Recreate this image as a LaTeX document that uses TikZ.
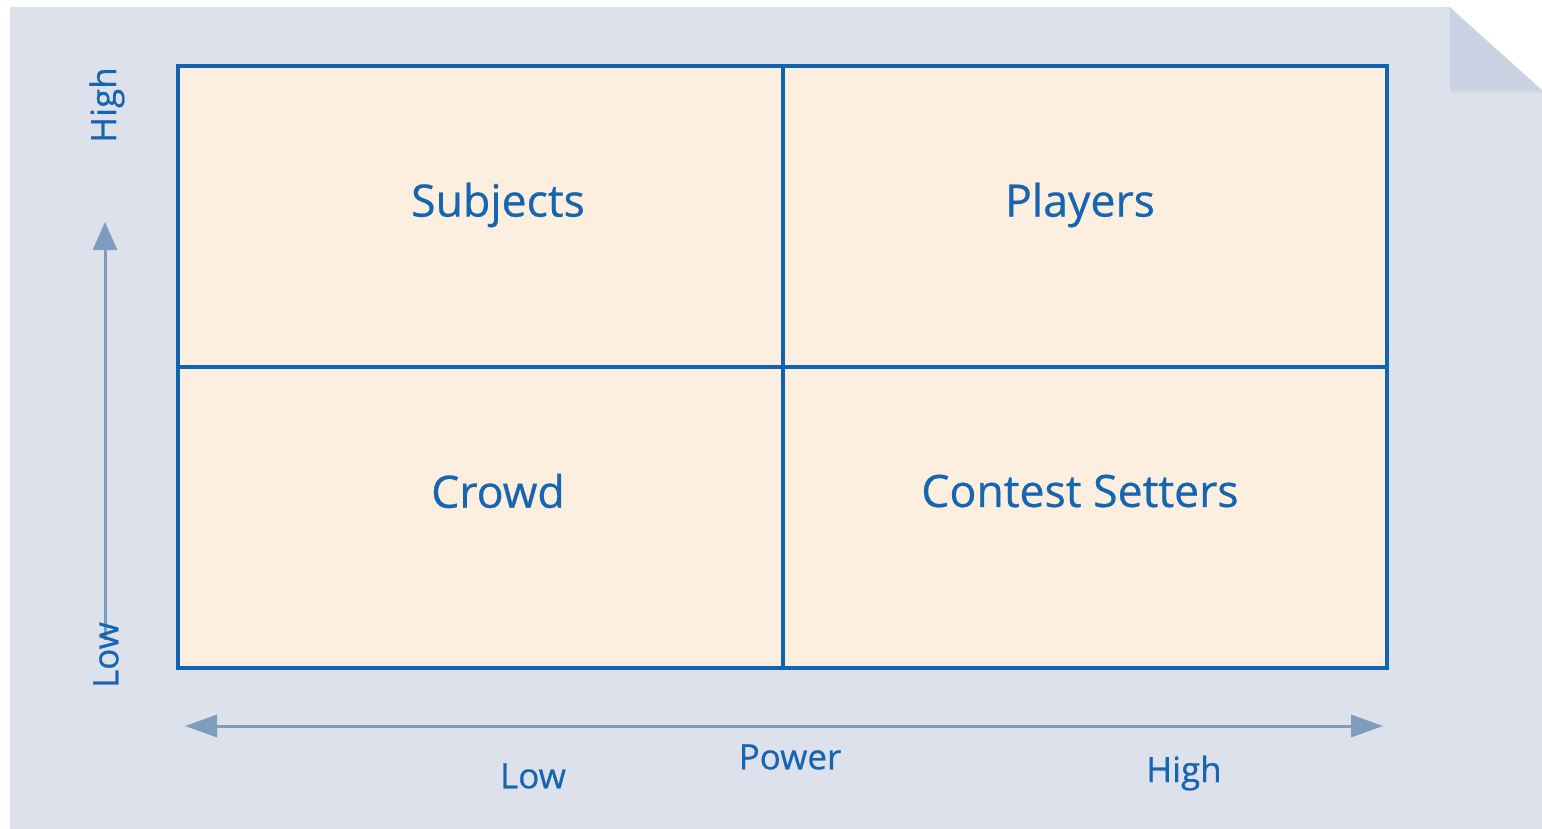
\documentclass[tikz,border=0pt]{standalone}
\usepackage{fontspec}
\setmainfont{Open Sans}
\newfontface\medfont{Open Sans}[FakeBold=0.6]
\usetikzlibrary{arrows.meta}
\definecolor{pagebg}{HTML}{DCE1EC}
\definecolor{foldc}{HTML}{C8D2E2}
\definecolor{cellfill}{HTML}{FDEFE0}
\definecolor{gridblue}{HTML}{0F63B0}
\definecolor{txtblue}{HTML}{1565B0}
\definecolor{axisc}{HTML}{7F9CBF}
\tikzset{
  celltxt/.style={text=txtblue, font=\medfont\fontsize{22.3}{26}\selectfont, inner sep=0pt},
  axistxt/.style={text=txtblue, font=\medfont\fontsize{17.5}{21}\selectfont, inner sep=0pt},
  axisline/.style={draw=axisc, line width=1.5pt},
  gridline/.style={draw=gridblue, line width=2.2pt}
}
\begin{document}
\begin{tikzpicture}[x=0.5pt,y=-0.5pt]
\useasboundingbox (0,0) rectangle (1542,829);
\fill[white] (0,0) rectangle (1542,829);
% page with folded corner
\fill[pagebg] (10,7) -- (1450,7) -- (1542,90) -- (1542,829) -- (10,829) -- cycle;
\fill[black!20, opacity=0.5] (1452,10) -- (1452,93) -- (1542,93) -- (1542,90) -- cycle;
\fill[foldc] (1450,8) -- (1450,90) -- (1540,90) -- cycle;
% grid
\fill[cellfill] (178,66) rectangle (1387,668);
\draw[gridline] (178,66) rectangle (1387,668);
\draw[gridline] (783,66) -- (783,668);
\draw[gridline] (178,367) -- (1387,367);
% cell labels
\node[celltxt] (subj) at (498,205) {Subjects};
\node[celltxt] (play) at (1080,205) {Players};
\node[celltxt] (crowd) at (498,491) {Crowd};
\node[celltxt] (cont) at (1080,491) {Contest Setters};
% vertical axis
\coordinate (vbot) at (105,640);
\coordinate (vtop) at (105,222);
\draw[axisline, -{Triangle[length=14pt,width=12pt]}] (vbot) -- (vtop);
\node[axistxt, rotate=90] (vhigh) at (107,105) {High};
\node[axistxt, rotate=90] (vlow) at (106,655) {Low};
% horizontal axis
\coordinate (hleft) at (185,726);
\coordinate (hright) at (1383,726);
\draw[axisline, {Triangle[length=16pt,width=11pt]}-{Triangle[length=16pt,width=11pt]}] (hleft) -- (hright);
\node[axistxt] (hlow) at (533,776) {Low};
\node[axistxt] (hpow) at (790,757) {Power};
\node[axistxt] (hhigh) at (1184,773) {High};
\end{tikzpicture}
\end{document}
